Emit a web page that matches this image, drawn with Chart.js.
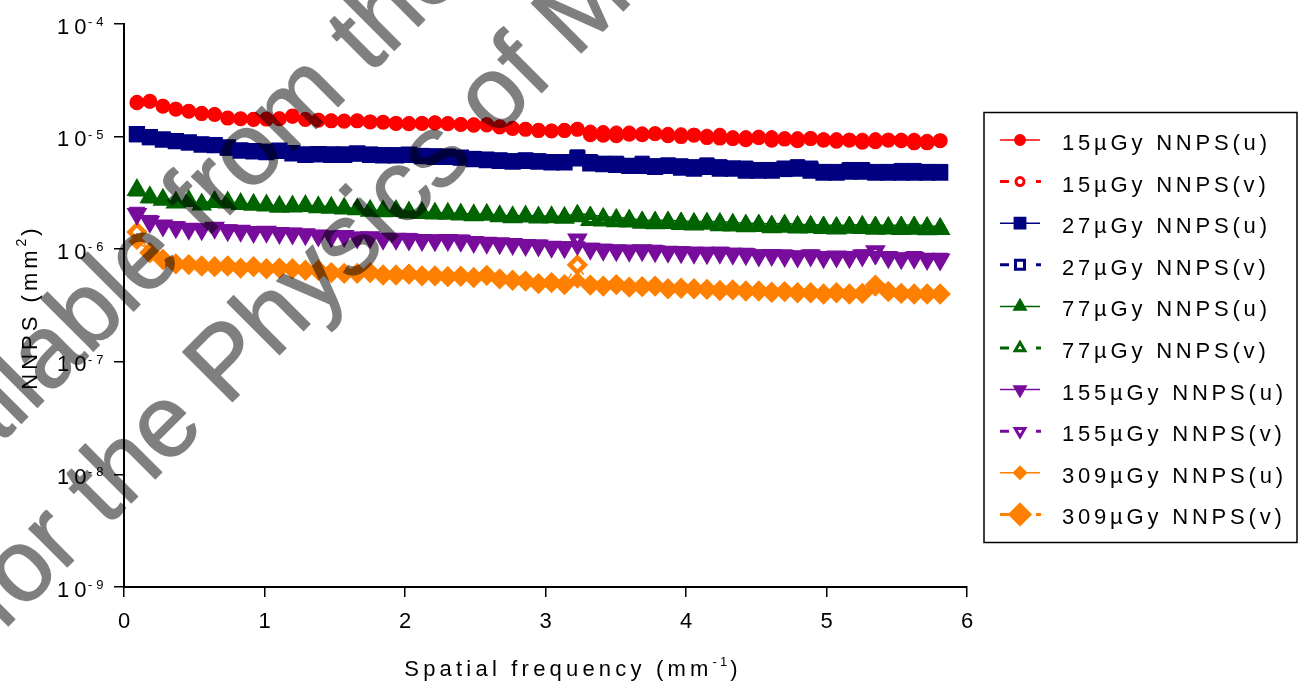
<!DOCTYPE html>
<html><head><meta charset="utf-8">
<script src="https://cdn.jsdelivr.net/npm/chart.js@4.4.1/dist/chart.umd.min.js"></script>
<style>html,body{margin:0;padding:0;background:#fff;overflow:hidden}</style>
</head><body>
<canvas id="c" width="1298" height="682"></canvas>
<script>
// Spatial frequency bins (mm^-1)
const frequency = [0.092,0.184,0.277,0.369,0.461,0.553,0.645,0.738,0.830,0.922,1.014,1.106,1.199,1.291,1.383,1.475,1.567,1.660,1.752,1.844,1.936,2.028,2.121,2.213,2.305,2.397,2.489,2.582,2.674,2.766,2.858,2.950,3.043,3.135,3.227,3.319,3.411,3.504,3.596,3.688,3.780,3.872,3.965,4.057,4.149,4.241,4.333,4.426,4.518,4.610,4.702,4.794,4.887,4.979,5.071,5.163,5.255,5.348,5.440,5.532,5.624,5.716,5.809];

const nnps15u = [2.04e-5,2.04e-5,1.88e-5,1.77e-5,1.68e-5,1.62e-5,1.58e-5,1.47e-5,1.44e-5,1.44e-5,1.44e-5,1.45e-5,1.50e-5,1.43e-5,1.41e-5,1.39e-5,1.39e-5,1.38e-5,1.36e-5,1.35e-5,1.32e-5,1.32e-5,1.32e-5,1.34e-5,1.32e-5,1.29e-5,1.29e-5,1.29e-5,1.23e-5,1.20e-5,1.17e-5,1.15e-5,1.13e-5,1.15e-5,1.17e-5,1.11e-5,1.10e-5,1.09e-5,1.09e-5,1.07e-5,1.07e-5,1.06e-5,1.05e-5,1.04e-5,1.02e-5,1.04e-5,9.9e-6,9.9e-6,1.00e-5,9.9e-6,9.7e-6,9.7e-6,9.7e-6,9.5e-6,9.5e-6,9.4e-6,9.4e-6,9.5e-6,9.4e-6,9.4e-6,9.4e-6,9.2e-6,9.2e-6];
const nnps15v = [2.00e-5,2.06e-5,1.86e-5,1.75e-5,1.68e-5,1.60e-5,1.57e-5,1.46e-5,1.44e-5,1.42e-5,1.43e-5,1.44e-5,1.52e-5,1.42e-5,1.40e-5,1.38e-5,1.37e-5,1.38e-5,1.35e-5,1.34e-5,1.31e-5,1.30e-5,1.31e-5,1.32e-5,1.30e-5,1.28e-5,1.26e-5,1.27e-5,1.22e-5,1.18e-5,1.16e-5,1.13e-5,1.12e-5,1.13e-5,1.16e-5,1.04e-5,1.03e-5,1.02e-5,1.05e-5,1.04e-5,1.06e-5,1.02e-5,1.00e-5,1.03e-5,9.8e-6,9.7e-6,9.6e-6,9.4e-6,9.8e-6,9.3e-6,9.5e-6,9.2e-6,9.6e-6,9.3e-6,9.1e-6,9.3e-6,8.9e-6,9.0e-6,9.3e-6,9.2e-6,8.8e-6,8.8e-6,9.2e-6];
const nnps27u = [1.04e-5,9.8e-6,9.5e-6,9.2e-6,8.8e-6,8.6e-6,8.5e-6,7.9e-6,7.6e-6,7.5e-6,7.4e-6,7.4e-6,7.2e-6,7.0e-6,6.9e-6,7.0e-6,7.0e-6,7.0e-6,6.96e-6,6.9e-6,6.9e-6,6.8e-6,6.8e-6,6.75e-6,6.7e-6,6.5e-6,6.4e-6,6.3e-6,6.2e-6,6.1e-6,6.2e-6,6.1e-6,6.0e-6,6.0e-6,6.6e-6,6.0e-6,5.8e-6,5.8e-6,5.5e-6,5.8e-6,5.5e-6,5.6e-6,5.5e-6,5.4e-6,5.6e-6,5.4e-6,5.25e-6,5.25e-6,5.1e-6,5.1e-6,5.1e-6,5.4e-6,5.25e-6,4.9e-6,4.9e-6,5.1e-6,5.1e-6,4.9e-6,4.9e-6,5.0e-6,5.0e-6,4.9e-6,4.9e-6];
const nnps27v = [1.05e-5,9.9e-6,9.4e-6,9.1e-6,8.9e-6,8.5e-6,8.4e-6,8.0e-6,7.5e-6,7.4e-6,7.3e-6,7.5e-6,7.1e-6,6.9e-6,7.0e-6,6.9e-6,6.9e-6,7.1e-6,6.9e-6,6.8e-6,6.8e-6,6.9e-6,6.7e-6,6.6e-6,6.6e-6,6.5e-6,6.3e-6,6.2e-6,6.1e-6,6.0e-6,6.1e-6,6.0e-6,5.9e-6,5.9e-6,6.4e-6,5.8e-6,5.7e-6,5.6e-6,5.5e-6,5.5e-6,5.4e-6,5.5e-6,5.3e-6,5.2e-6,5.4e-6,5.2e-6,5.2e-6,5.0e-6,5.0e-6,5.0e-6,5.2e-6,5.2e-6,5.0e-6,4.8e-6,4.8e-6,4.9e-6,4.9e-6,4.8e-6,4.8e-6,4.8e-6,4.8e-6,4.8e-6,4.8e-6];
const nnps77u = [3.25e-6,2.83e-6,2.73e-6,2.64e-6,2.64e-6,2.55e-6,2.73e-6,2.64e-6,2.55e-6,2.52e-6,2.47e-6,2.42e-6,2.39e-6,2.47e-6,2.42e-6,2.39e-6,2.31e-6,2.31e-6,2.23e-6,2.20e-6,2.20e-6,2.15e-6,2.15e-6,2.11e-6,2.11e-6,2.08e-6,2.05e-6,2.05e-6,2.01e-6,1.97e-6,2.00e-6,1.97e-6,1.97e-6,1.95e-6,2.08e-6,2.01e-6,1.95e-6,1.91e-6,1.88e-6,1.81e-6,1.81e-6,1.81e-6,1.78e-6,1.76e-6,1.76e-6,1.76e-6,1.73e-6,1.70e-6,1.70e-6,1.67e-6,1.70e-6,1.66e-6,1.66e-6,1.64e-6,1.62e-6,1.64e-6,1.66e-6,1.64e-6,1.62e-6,1.64e-6,1.64e-6,1.62e-6,1.58e-6];
const nnps77v = [3.35e-6,2.90e-6,2.75e-6,2.60e-6,2.68e-6,2.50e-6,2.62e-6,2.60e-6,2.52e-6,2.48e-6,2.45e-6,2.38e-6,2.40e-6,2.42e-6,2.36e-6,2.34e-6,2.30e-6,2.26e-6,2.20e-6,2.17e-6,2.18e-6,2.12e-6,2.10e-6,2.08e-6,2.06e-6,2.03e-6,2.00e-6,2.02e-6,1.96e-6,1.92e-6,1.95e-6,1.91e-6,1.92e-6,1.90e-6,1.96e-6,1.82e-6,1.80e-6,1.77e-6,1.76e-6,1.72e-6,1.70e-6,1.71e-6,1.67e-6,1.66e-6,1.68e-6,1.63e-6,1.62e-6,1.60e-6,1.61e-6,1.57e-6,1.58e-6,1.56e-6,1.57e-6,1.54e-6,1.53e-6,1.55e-6,1.54e-6,1.52e-6,1.53e-6,1.51e-6,1.52e-6,1.50e-6,1.51e-6];
const nnps155u = [2.15e-6,1.82e-6,1.64e-6,1.60e-6,1.53e-6,1.53e-6,1.56e-6,1.50e-6,1.48e-6,1.44e-6,1.44e-6,1.41e-6,1.40e-6,1.37e-6,1.34e-6,1.31e-6,1.30e-6,1.29e-6,1.29e-6,1.26e-6,1.23e-6,1.26e-6,1.22e-6,1.22e-6,1.22e-6,1.22e-6,1.18e-6,1.15e-6,1.14e-6,1.12e-6,1.10e-6,1.10e-6,1.06e-6,1.06e-6,1.06e-6,1.03e-6,1.01e-6,9.9e-7,9.9e-7,9.9e-7,9.9e-7,9.6e-7,9.6e-7,9.5e-7,9.5e-7,9.5e-7,9.3e-7,9.3e-7,9.0e-7,9.0e-7,9.0e-7,8.8e-7,9.0e-7,8.7e-7,8.7e-7,8.7e-7,9.0e-7,8.7e-7,8.7e-7,8.4e-7,8.7e-7,8.4e-7,8.4e-7];
const nnps155v = [2.05e-6,1.75e-6,1.62e-6,1.57e-6,1.52e-6,1.50e-6,1.55e-6,1.47e-6,1.46e-6,1.42e-6,1.43e-6,1.39e-6,1.38e-6,1.36e-6,1.32e-6,1.30e-6,1.31e-6,1.27e-6,1.28e-6,1.24e-6,1.24e-6,1.22e-6,1.21e-6,1.20e-6,1.21e-6,1.19e-6,1.16e-6,1.14e-6,1.13e-6,1.11e-6,1.09e-6,1.08e-6,1.05e-6,1.04e-6,1.22e-6,1.01e-6,9.9e-7,9.8e-7,9.7e-7,9.8e-7,9.6e-7,9.5e-7,9.4e-7,9.3e-7,9.2e-7,9.3e-7,9.1e-7,9.0e-7,8.8e-7,8.9e-7,8.7e-7,8.6e-7,8.8e-7,8.5e-7,8.6e-7,8.5e-7,8.8e-7,9.6e-7,8.5e-7,8.3e-7,8.4e-7,8.2e-7,8.1e-7];
const nnps309u = [1.17e-6,9.7e-7,8.4e-7,7.6e-7,7.2e-7,7.0e-7,7.1e-7,7.2e-7,6.9e-7,6.9e-7,6.8e-7,6.8e-7,6.75e-7,6.6e-7,6.4e-7,6.3e-7,6.0e-7,6.2e-7,6.3e-7,6.0e-7,5.85e-7,6.2e-7,5.9e-7,5.7e-7,5.9e-7,5.7e-7,5.7e-7,6.0e-7,5.5e-7,5.4e-7,5.15e-7,5.0e-7,5.0e-7,4.8e-7,5.3e-7,4.9e-7,4.65e-7,5.0e-7,4.65e-7,4.6e-7,4.8e-7,4.5e-7,4.5e-7,4.4e-7,4.5e-7,4.35e-7,4.3e-7,4.2e-7,4.3e-7,4.2e-7,4.2e-7,4.2e-7,4.06e-7,4.06e-7,4.06e-7,4.06e-7,4.1e-7,4.5e-7,4.35e-7,4.1e-7,4.1e-7,4.06e-7,4.0e-7];
const nnps309v = [1.42e-6,9.3e-7,8.1e-7,7.4e-7,7.3e-7,7.1e-7,7.0e-7,7.1e-7,6.8e-7,7.0e-7,6.7e-7,6.8e-7,6.7e-7,6.5e-7,6.5e-7,6.2e-7,6.1e-7,6.1e-7,6.2e-7,5.9e-7,5.9e-7,6.0e-7,5.8e-7,5.8e-7,5.7e-7,5.75e-7,5.6e-7,5.85e-7,5.45e-7,5.3e-7,5.2e-7,4.95e-7,5.05e-7,4.85e-7,7.25e-7,4.8e-7,4.7e-7,4.85e-7,4.6e-7,4.65e-7,4.7e-7,4.45e-7,4.5e-7,4.45e-7,4.4e-7,4.3e-7,4.35e-7,4.25e-7,4.25e-7,4.15e-7,4.2e-7,4.1e-7,4.1e-7,4.0e-7,4.1e-7,4.0e-7,4.05e-7,4.8e-7,4.2e-7,4.05e-7,4.0e-7,4.0e-7,4.0e-7];

const seriesLabels = ['15\u00b5Gy NNPS(u)','15\u00b5Gy NNPS(v)','27\u00b5Gy NNPS(u)','27\u00b5Gy NNPS(v)','77\u00b5Gy NNPS(u)','77\u00b5Gy NNPS(v)','155\u00b5Gy NNPS(u)','155\u00b5Gy NNPS(v)','309\u00b5Gy NNPS(u)','309\u00b5Gy NNPS(v)'];
const seriesValues = [nnps15u,nnps15v,nnps27u,nnps27v,nnps77u,nnps77v,nnps155u,nnps155v,nnps309u,nnps309v];
const yTickValues = [1e-9,1e-8,1e-7,1e-6,1e-5,1e-4];
const yTickExponents = ['-9','-8','-7','-6','-5','-4'];
const xTicks = [0,1,2,3,4,5,6];
const yTitle = ['NNPS (mm', '2', ')'];
const xTitle = ['Spatial frequency (mm', '-1', ')'];
const watermark = ['available from the', 'for the Physics of Ma'];

const FONT = '"Liberation Sans", Arial, Helvetica, sans-serif';
const colors = ['#ff0000','#ff0000','#000080','#000080','#006400','#006400','#780c9c','#780c9c','#ff8000','#ff8000'];
// u: filled symbols; v: open symbols with heavy outline
const styles = [
  {ps:'circle', r:6.5, rot:0, bw:1}, {ps:'circle', r:5, rot:0, bw:5},
  {ps:'rect', r:10, rot:0, bw:1}, {ps:'rect', r:8, rot:0, bw:5},
  {ps:'triangle', r:9, rot:0, bw:1}, {ps:'triangle', r:7, rot:0, bw:5},
  {ps:'triangle', r:9, rot:180, bw:1}, {ps:'triangle', r:7, rot:180, bw:5},
  {ps:'rectRot', r:8, rot:0, bw:1}, {ps:'rectRot', r:7.5, rot:0, bw:4.5}
];

const datasets = seriesValues.map((vals, k) => {
  const isV = k % 2 === 1;
  const st = styles[k];
  return {
    label: seriesLabels[k],
    data: frequency.map((f, i) => ({x: f, y: vals[i]})),
    borderColor: colors[k],
    backgroundColor: colors[k],
    borderWidth: 1.5,
    borderDash: isV ? [6, 5] : [],
    pointStyle: st.ps,
    pointRotation: st.rot,
    pointRadius: st.r,
    pointBorderWidth: st.bw,
    pointBackgroundColor: isV ? '#ffffff' : colors[k],
    pointBorderColor: colors[k],
    tension: 0
  };
});

function spacedWidth(ctx, text, sp) {
  ctx.letterSpacing = '0px';
  const w0 = ctx.measureText(text).width;
  ctx.letterSpacing = sp + 'px';
  const w1 = ctx.measureText(text).width;
  if (Math.abs(w1 - w0) < 0.01) return w0 + sp * text.length;
  return w1;
}
function richWidth(ctx, parts) {
  let w = 0;
  for (const p of parts) { ctx.font = p.size + 'px ' + FONT; w += spacedWidth(ctx, p.t, p.sp); }
  return w;
}
function drawRich(ctx, parts, x, y) {
  let cx = x;
  for (const p of parts) {
    ctx.font = p.size + 'px ' + FONT;
    const w = spacedWidth(ctx, p.t, p.sp);
    ctx.letterSpacing = p.sp + 'px';
    ctx.fillText(p.t, cx, y + (p.dy || 0));
    cx += w;
  }
  ctx.letterSpacing = '0px';
}

const decor = {
  id: 'decor',
  afterDraw(chart) {
    const ctx = chart.ctx;
    const ys = chart.scales.y;
    ctx.save();
    ctx.fillStyle = '#000';
    ctx.textAlign = 'left';
    ctx.textBaseline = 'alphabetic';
    // y tick labels 10^n
    yTickValues.forEach((v, i) => {
      const py = ys.getPixelForValue(v);
      drawRich(ctx, [{t:'10', size:22, sp:5}], 57, py + 9.5);
      drawRich(ctx, [{t:yTickExponents[i], size:13, sp:4}], 88, py + 2);
    });
    // x title
    const xParts = [{t:xTitle[0], size:22, sp:4.2}, {t:xTitle[1], size:13, sp:3, dy:-10}, {t:xTitle[2], size:22, sp:4.2}];
    const xw = richWidth(ctx, xParts);
    drawRich(ctx, xParts, 573 - xw / 2, 676);
    // y title
    ctx.save();
    ctx.translate(37, 307);
    ctx.rotate(-Math.PI / 2);
    const yParts = [{t:yTitle[0], size:22, sp:4}, {t:yTitle[1], size:14, sp:3, dy:-11}, {t:yTitle[2], size:22, sp:4}];
    const yw = richWidth(ctx, yParts);
    drawRich(ctx, yParts, -yw / 2, 0);
    ctx.restore();
    // legend
    ctx.lineWidth = 1.5;
    ctx.strokeStyle = '#000';
    ctx.strokeRect(984, 112.5, 313, 430);
    chart.data.datasets.forEach((ds, k) => {
      const ry = 140 + k * 41.6;
      const isV = k % 2 === 1;
      ctx.strokeStyle = colors[k];
      ctx.fillStyle = colors[k];
      ctx.lineWidth = isV ? 3 : 1.5;
      ctx.setLineDash([]);
      ctx.beginPath();
      if (isV) {
        ctx.moveTo(1000, ry); ctx.lineTo(1009, ry);
        ctx.moveTo(1036, ry); ctx.lineTo(1041, ry);
      } else {
        ctx.moveTo(1000, ry); ctx.lineTo(1040, ry);
      }
      ctx.stroke();
      const st = styles[k];
      ctx.fillStyle = isV && k !== 9 ? '#ffffff' : colors[k];
      let r = st.r * 0.8;
      if (k === 9) r = 10;
      Chart.helpers.drawPoint(ctx, {pointStyle: st.ps, rotation: st.rot, radius: r, borderWidth: isV ? 4 : 1}, 1020, ry);
      ctx.fillStyle = '#000';
      drawRich(ctx, [{t: ds.label, size:22, sp:3.8}], 1062, ry + 10);
    });
    ctx.restore();

    // watermark: drawn opaque on a layer, then composited at 50%
    const layer = document.createElement('canvas');
    layer.width = chart.width; layer.height = chart.height;
    const w = layer.getContext('2d');
    w.fillStyle = '#000';
    w.strokeStyle = '#000';
    w.lineWidth = 1.5;
    w.lineJoin = 'round';
    w.font = '102px ' + FONT;
    w.translate(2, 632);
    w.rotate(-45 * Math.PI / 180);
    [[watermark[1], 0, 0], [watermark[0], -10, -134]].forEach(([t, x, y]) => {
      w.fillText(t, x, y);
      w.strokeText(t, x, y);
    });
    ctx.save();
    ctx.globalAlpha = 0.5;
    ctx.drawImage(layer, 0, 0);
    ctx.restore();
  }
};

new Chart(document.getElementById('c'), {
  type: 'line',
  data: { datasets },
  options: {
    responsive: false,
    devicePixelRatio: 1,
    animation: false,
    events: [],
    layout: { padding: { top: 24, right: 331, left: 0, bottom: 0 } },
    plugins: { legend: { display: false }, tooltip: { enabled: false } },
    scales: {
      x: {
        type: 'linear', min: 0, max: 6,
        afterBuildTicks: (s) => { s.ticks = xTicks.map(v => ({value: v})); },
        afterFit: (s) => { s.height = 95; },
        ticks: { color: '#000', font: { family: FONT, size: 22 }, padding: 12, maxRotation: 0 },
        grid: { drawOnChartArea: false, drawTicks: true, tickLength: 10, color: '#000', lineWidth: 1.5 },
        border: { display: true, color: '#000', width: 2 }
      },
      y: {
        type: 'logarithmic', min: 1e-9, max: 1e-4,
        afterBuildTicks: (s) => { s.ticks = yTickValues.map(v => ({value: v})); },
        afterFit: (s) => { s.width = 124; },
        ticks: { display: false },
        grid: { drawOnChartArea: false, drawTicks: true, tickLength: 10, color: '#000', lineWidth: 1.5 },
        border: { display: true, color: '#000', width: 2 }
      }
    }
  },
  plugins: [decor]
});
</script>
</body></html>
